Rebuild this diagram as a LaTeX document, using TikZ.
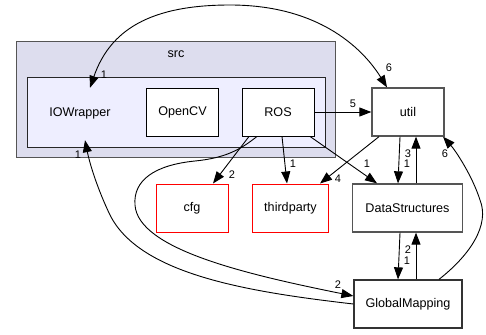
\documentclass[tikz,border=0pt]{standalone}
\usepackage{fontspec}
\setmainfont{Liberation Sans}
\usetikzlibrary{arrows.meta,calc}
\definecolor{outerfill}{HTML}{DDDDEE}
\definecolor{innerfill}{HTML}{EEEEFF}
\definecolor{greyline}{HTML}{555555}
\tikzset{
  dirbox/.style={draw=black, fill=white, line width=0.9pt, minimum height=48, inner sep=0pt,
    font=\fontsize{12.6}{14}\selectfont},
  greybox/.style={dirbox, draw=greyline, line width=1.3pt},
  redbox/.style={dirbox, draw=red, line width=1pt},
  dep/.style={line width=0.9pt, -{Triangle[length=12pt,width=9pt]}},
  bidep/.style={line width=0.9pt, {Triangle[length=12pt,width=9pt]}-{Triangle[length=12pt,width=9pt]}},
  cnt/.style={inner sep=0pt, font=\fontsize{11}{12}\selectfont},
}
\begin{document}
\begin{tikzpicture}[x=1pt,y=-1pt]
\useasboundingbox (0,0) rectangle (486,334);

% src cluster and IOWrapper cluster
\draw[fill=outerfill, draw=greyline, line width=1pt] (16,42) rectangle (335,157);
\node[font=\fontsize{12.6}{14}\selectfont] (srclbl) at (176,54) {src};
\draw[fill=innerfill, draw=black!85, line width=1pt] (27,78) rectangle (325,147);
\node[minimum width=100, minimum height=52, inner sep=0pt, font=\fontsize{12.6}{14}\selectfont] (iow) at (80,114) {\raisebox{3pt}{IOWrapper}};

% directory boxes
\node[dirbox, minimum width=72] (opencv) at (182.5,112) {OpenCV};
\node[dirbox, minimum width=72] (ros) at (278,112) {ROS};
\node[greybox, minimum width=72] (util) at (408,112) {util};
\node[redbox, minimum width=72] (cfg) at (192,208) {cfg};
\node[redbox, minimum width=76] (third) at (290.5,208) {thirdparty};
\node[greybox, minimum width=110] (ds) at (407.5,208) {DataStructures};
\node[greybox, draw=black!80, minimum width=108] (gm) at (408,304) {GlobalMapping};

% dependencies
\draw[bidep] ($(iow.north)+(10,0)$) .. controls (110,30) and (150,5) .. (230,5)
  .. controls (330,5) and (370,60) .. ($(util.north)+(-21,0)$);
\draw[dep] (ros.east) -- (util.west);
\draw[dep] (gm.west) .. controls (250,292) and (140,275) .. (110,215)
  .. controls (98,190) and (90,165) .. ($(iow.south)+(5,0)$);
\draw[dep] ($(ros.south)+(-21,0)$) .. controls (240,150) and (225,158) .. (195,161)
  .. controls (155,165) and (133,180) .. (135,205)
  .. controls (138,250) and (250,275) .. ($(gm.west)+(0,-8)$);
\draw[dep] ($(ros.south)+(-29,0)$) -- ($(cfg.north)+(21,0)$);
\draw[dep] ($(ros.south)+(4,0)$) -- ($(third.north)+(-3.5,0)$);
\draw[dep] ($(ros.south)+(32,0)$) -- ($(ds.north)+(-30.5,0)$);
\draw[dep] ($(util.south)+(-29,0)$) -- ($(third.north)+(29.5,0)$);
\draw[dep] ($(util.south)+(-8,0)$) -- ($(ds.north)+(-9.5,0)$);
\draw[dep] ($(ds.north)+(8.5,0)$) -- ($(util.south)+(8,0)$);
\draw[dep] ($(ds.south)+(-7.5,0)$) -- ($(gm.north)+(-10,0)$);
\draw[dep] ($(gm.north)+(8,0)$) -- ($(ds.south)+(8.5,0)$);
\draw[dep] ($(gm.north)+(31,0)$) .. controls (470,255) and (490,225) .. (480,200)
  .. controls (472,175) and (455,150) .. ($(util.south)+(35,0)$);

% dependency counts
\node[cnt] (c1) at (104,75) {1};
\node[cnt] (c2) at (389,68) {6};
\node[cnt] (c3) at (353,104) {5};
\node[cnt] (c4) at (78,155) {1};
\node[cnt] (c5) at (232,175) {2};
\node[cnt] (c6) at (293,164) {1};
\node[cnt] (c7) at (367,164) {1};
\node[cnt] (c8) at (338,179) {4};
\node[cnt] (c9) at (408,154) {3};
\node[cnt] (c10) at (407,164) {1};
\node[cnt] (c11) at (445,154) {6};
\node[cnt] (c12) at (408,250) {2};
\node[cnt] (c13) at (407,261) {1};
\node[cnt] (c14) at (338,285) {2};
\end{tikzpicture}
\end{document}
